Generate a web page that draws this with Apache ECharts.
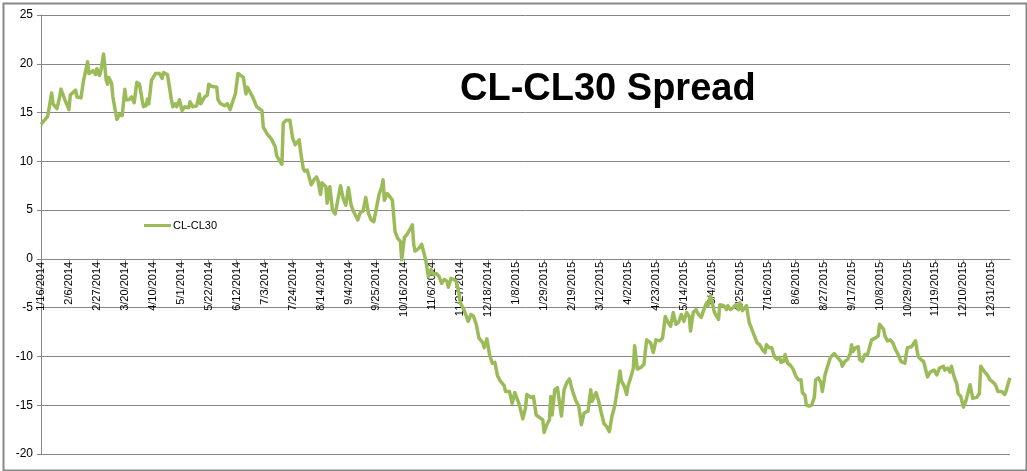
<!DOCTYPE html>
<html>
<head>
<meta charset="utf-8">
<script src="https://cdn.jsdelivr.net/npm/echarts@6/dist/echarts.min.js"></script>
<style>
  html, body { margin: 0; padding: 0; background: #fff; }
  #chart { width: 1027px; height: 471px; }
</style>
</head>
<body>
<div id="chart"></div>
<script>
// calendar axis: one category per day, first day 1/16/2014
var startYear = 2014, startMonth = 0, startDay = 16;
var dayCount = 729;
var labelEvery = 21; // excel major unit, days

var yTicks = [-20, -15, -10, -5, 0, 5, 10, 15, 20, 25];

// [day offset from 1/16/2014, CL-CL30 spread]
var spreadPoints = [
    [0, 13.8], [5, 14.6], [8, 17.0], [9, 15.9], [12, 15.4], [14, 16.6], [15, 17.4], [18, 16.3], [21, 15.3], [22, 16.8],
    [26, 17.3], [27, 16.6], [30, 16.5], [32, 18.3], [35, 20.2], [36, 19.0], [39, 19.3], [41, 18.9], [42, 19.5], [44, 18.8],
    [45, 19.3], [47, 21.0], [49, 18.3], [50, 17.9], [51, 18.6], [53, 18.0], [54, 16.6], [57, 14.3], [59, 14.8], [61, 14.7],
    [63, 17.4], [64, 16.3], [66, 16.3], [68, 16.6], [70, 16.0], [72, 18.1], [74, 17.9], [76, 16.3], [77, 15.6], [79, 15.7],
    [80, 16.4], [81, 15.9], [83, 18.3], [86, 19.0], [89, 19.0], [91, 18.5], [92, 19.1], [95, 18.9], [96, 18.8], [98, 16.3],
    [99, 15.6], [101, 15.9], [102, 15.6], [104, 16.3], [106, 15.2], [108, 15.6], [111, 15.5], [112, 16.1], [114, 15.6], [117, 15.7],
    [119, 16.9], [120, 15.9], [123, 16.6], [125, 16.8], [126, 17.9], [128, 17.7], [132, 17.6], [133, 16.3], [135, 15.9], [138, 15.7],
    [140, 15.9], [142, 15.3], [146, 16.9], [148, 19.0], [152, 18.6], [154, 16.9], [155, 17.6], [159, 16.6], [162, 15.6], [166, 15.2],
    [167, 13.5], [170, 12.8], [173, 12.3], [174, 12.4], [176, 11.5], [177, 10.6], [179, 10.1], [181, 9.7], [182, 13.9], [184, 14.2],
    [187, 14.2], [189, 12.4], [191, 11.7], [192, 11.8], [194, 12.2], [195, 11.0], [197, 9.3], [198, 9.0], [200, 9.1], [203, 7.6],
    [205, 8.1], [207, 8.4], [208, 8.1], [210, 6.6], [211, 7.8], [214, 7.4], [215, 5.7], [217, 7.4], [219, 5.0], [221, 4.6],
    [222, 4.8], [225, 7.5], [227, 6.2], [229, 5.5], [231, 7.3], [233, 5.5], [235, 4.8], [238, 4.0], [240, 4.8], [242, 4.9],
    [244, 6.3], [246, 4.7], [248, 4.0], [250, 3.8], [252, 5.2], [254, 6.6], [256, 7.4], [257, 8.1], [258, 6.0], [260, 6.7],
    [262, 6.4], [264, 6.0], [266, 2.8], [268, 2.1], [270, 1.8], [271, -0.1], [273, 2.2], [275, 2.5], [276, 2.6], [279, 3.5],
    [280, 1.5], [281, 0.8], [284, 1.1], [286, 1.5], [289, -0.1], [291, -1.8], [293, -1.1], [295, -1.6], [297, -1.5], [299, -1.8],
    [301, -2.5], [303, -2.1], [305, -2.3], [306, -2.9], [308, -2.0], [310, -2.1], [312, -2.3], [314, -3.5], [315, -4.5], [318, -5.3],
    [321, -6.4], [323, -5.7], [325, -5.9], [327, -6.7], [329, -8.1], [332, -8.6], [333, -9.1], [335, -8.2], [337, -9.8], [339, -10.7],
    [341, -10.6], [343, -12.0], [345, -12.5], [348, -13.0], [349, -13.6], [352, -13.6], [354, -14.8], [356, -13.7], [357, -13.6], [359, -14.8],
    [360, -15.3], [362, -16.4], [364, -15.3], [365, -13.9], [368, -14.2], [370, -14.1], [372, -16.0], [375, -16.3], [377, -16.5], [378, -17.8],
    [380, -17.0], [382, -16.5], [383, -14.1], [384, -16.0], [386, -13.4], [388, -13.2], [391, -16.1], [393, -13.4], [395, -12.7], [397, -12.3],
    [399, -13.4], [402, -14.6], [404, -15.1], [406, -17.0], [408, -15.8], [411, -15.6], [413, -13.4], [414, -14.6], [417, -13.7], [419, -14.6],
    [421, -15.8], [423, -16.9], [425, -17.2], [427, -17.7], [429, -16.1], [431, -15.1], [433, -13.4], [435, -11.5], [436, -12.5], [438, -13.0],
    [440, -13.9], [441, -13.0], [443, -12.2], [445, -11.2], [446, -8.9], [448, -11.3], [451, -11.1], [453, -10.8], [455, -8.3], [458, -8.6],
    [460, -9.6], [462, -8.3], [465, -8.4], [467, -8.1], [469, -5.9], [471, -6.5], [473, -6.9], [475, -5.5], [477, -6.7], [479, -6.5],
    [481, -5.7], [483, -6.4], [485, -5.5], [487, -5.9], [488, -7.4], [490, -5.5], [492, -5.2], [494, -5.7], [496, -6.0], [498, -5.2],
    [500, -4.5], [501, -4.8], [503, -3.8], [504, -4.3], [506, -5.5], [509, -6.2], [510, -4.7], [513, -4.8], [515, -5.2], [516, -4.8],
    [518, -5.2], [520, -5.0], [522, -4.7], [524, -5.2], [525, -4.5], [527, -5.3], [528, -5.5], [530, -4.8], [531, -4.8], [532, -6.5],
    [534, -7.2], [536, -7.9], [538, -8.6], [540, -8.8], [542, -9.3], [544, -9.6], [545, -8.8], [547, -9.1], [549, -9.1], [551, -10.0],
    [553, -10.3], [555, -10.1], [556, -10.6], [558, -10.5], [559, -9.8], [561, -10.7], [563, -10.9], [565, -11.3], [566, -11.2], [567, -12.0],
    [569, -12.4], [571, -12.4], [572, -13.7], [574, -14.0], [575, -15.0], [577, -15.1], [579, -15.0], [581, -14.2], [582, -12.4], [584, -12.2],
    [586, -12.7], [587, -13.6], [589, -11.9], [591, -11.0], [593, -10.1], [596, -9.7], [599, -10.2], [601, -10.5], [602, -11.0], [604, -10.5],
    [606, -10.3], [608, -9.7], [609, -8.8], [610, -9.5], [612, -9.1], [614, -9.0], [615, -10.3], [617, -10.5], [619, -9.8], [621, -9.8],
    [622, -9.3], [624, -8.3], [625, -8.4], [627, -8.1], [629, -7.9], [630, -6.7], [631, -6.6], [633, -7.2], [634, -7.9], [636, -8.4],
    [638, -8.3], [640, -8.6], [642, -9.3], [644, -9.8], [646, -10.5], [649, -10.7], [650, -9.8], [651, -9.1], [654, -9.0], [655, -9.2],
    [657, -8.4], [659, -10.0], [661, -10.3], [663, -10.5], [664, -11.0], [666, -12.1], [668, -11.6], [669, -11.7], [671, -11.4], [673, -11.9],
    [675, -11.2], [678, -11.0], [679, -11.4], [681, -11.2], [683, -11.6], [684, -11.0], [686, -12.1], [688, -12.8], [689, -13.8], [691, -14.1],
    [693, -15.2], [695, -14.5], [697, -13.4], [698, -12.9], [700, -14.3], [701, -14.5], [703, -14.2], [705, -13.8], [706, -11.0], [709, -11.6],
    [711, -11.9], [713, -12.4], [715, -12.6], [717, -12.9], [719, -13.6], [722, -13.6], [724, -13.9], [725, -13.6], [727, -12.6], [728, -12.2]
];

var dates = [];
for (var i = 0; i < dayCount; i++) {
    var dt = new Date(Date.UTC(startYear, startMonth, startDay + i));
    dates.push((dt.getUTCMonth() + 1) + "/" + dt.getUTCDate() + "/" + dt.getUTCFullYear());
}

var gridTop = 15, gridBottom = 17, chartH = 471;
var yMin = yTicks[0], yMax = yTicks[yTicks.length - 1];
// axis sits on the y=0 line (onZero is not honoured here, so shift it up by the scale)
var plotH = chartH - gridTop - gridBottom;
var zeroOffset = -plotH * (0 - yMin) / (yMax - yMin);

var gridGray = "#868686";
var chart = echarts.init(document.getElementById("chart"));
chart.setOption({
    animation: false,
    backgroundColor: "#fff",
    textStyle: { fontFamily: "Liberation Sans, Arial, sans-serif" },
    title: {
        text: "CL-CL30 Spread",
        left: 455,
        top: 66,
        textStyle: { fontSize: 38, fontWeight: "bold", color: "#000", fontFamily: "Liberation Sans, Arial, sans-serif" }
    },
    legend: {
        left: 139,
        top: 215,
        icon: "rect",
        itemWidth: 27,
        itemHeight: 3,
        itemGap: 4,
        textStyle: { fontSize: 11, color: "#000", padding: [0, 0, 0, -3] },
        data: ["CL-CL30"]
    },
    grid: { left: 41, right: 17, top: gridTop, bottom: gridBottom, containLabel: false, outerBoundsMode: "none" },
    xAxis: {
        type: "category",
        data: dates,
        boundaryGap: false,
        position: "bottom",
        offset: zeroOffset,
        axisLine: { onZero: false, lineStyle: { color: gridGray, width: 1 } },
        axisTick: { show: true, interval: labelEvery - 1, length: 4, lineStyle: { color: gridGray } },
        axisLabel: { interval: labelEvery - 1, rotate: 90, fontSize: 11, color: "#000", margin: 3 },
        splitLine: { show: false }
    },
    yAxis: {
        type: "value",
        min: yMin,
        max: yMax,
        interval: 5,
        axisLine: { show: true, lineStyle: { color: gridGray } },
        axisTick: { show: true, length: 4, lineStyle: { color: gridGray } },
        axisLabel: { fontSize: 12, color: "#000", margin: 8 },
        splitLine: { show: true, lineStyle: { color: gridGray, width: 1 } }
    },
    series: [
        {
            name: "CL-CL30",
            type: "line",
            data: spreadPoints,
            showSymbol: false,
            symbol: "none",
            z: 3,
            lineStyle: { color: "#9bbb59", width: 3.5, join: "round" },
            itemStyle: { color: "#9bbb59" }
        }
    ],
    graphic: [
        {
            type: "rect",
            left: 1,
            top: 1,
            shape: { width: 1023, height: 467 },
            style: { fill: "none", stroke: "#888", lineWidth: 2 },
            silent: true
        }
    ]
});
</script>
</body>
</html>
